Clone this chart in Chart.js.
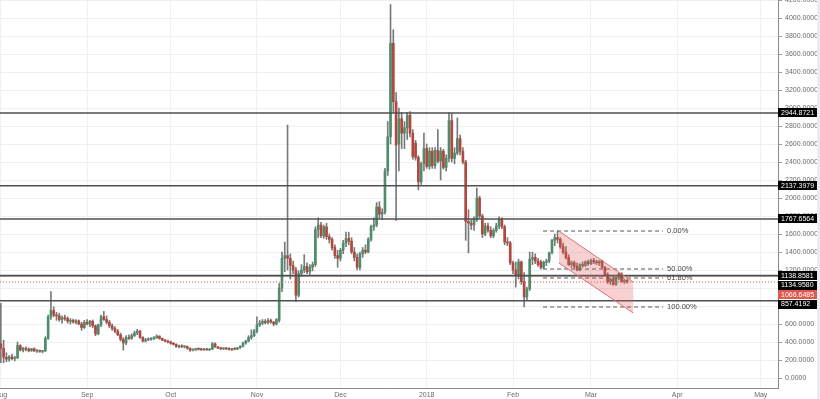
<!DOCTYPE html>
<html>
<head>
<meta charset="utf-8">
<script src="https://cdn.jsdelivr.net/npm/chart.js@4.4.1/dist/chart.umd.min.js"></script>
<style>
  html, body { margin:0; padding:0; background:#fff; overflow:hidden; }
  #wrap { position:relative; width:820px; height:399px; }
  #strip { position:absolute; right:0; top:0; width:3px; height:399px; background:#e9ecf0; }
</style>
</head>
<body>
<div id="wrap"><canvas id="chart" width="820" height="399"></canvas><div id="strip"></div></div>
<script>
// day 0 = 1 Aug 2017, one candle per day: [open, high, low, close]
var monthStarts = [0, 31, 61, 92, 122, 153, 184, 212, 243, 273];
var monthLabels = ['Aug', 'Sep', 'Oct', 'Nov', 'Dec', '2018', 'Feb', 'Mar', 'Apr', 'May'];

var aug = [
  [380,830,170,330],[330,420,170,230],[230,280,180,210],[210,250,185,235],[235,265,200,215],
  [215,240,190,225],[225,400,215,360],[360,370,300,310],[310,340,290,330],[330,345,300,320],
  [320,335,290,305],[305,330,295,325],[325,335,295,300],[300,315,285,303],[303,310,285,295],
  [295,305,280,300],[300,460,295,440],[440,700,430,680],[680,960,650,750],[750,790,680,700],
  [700,730,640,690],[690,720,630,650],[650,690,610,670],[670,700,640,660],[660,680,610,630],
  [630,660,600,640],[640,655,610,620],[620,650,600,635],[635,645,590,600],[600,620,530,560],
  [560,640,550,620]
];
var sep = [
  [620,650,590,600],[600,640,570,630],[630,645,560,580],[580,590,470,490],[490,600,480,590],
  [590,700,570,680],[680,740,640,650],[650,690,600,620],[620,640,560,580],[580,600,530,550],
  [550,570,500,520],[520,540,470,480],[480,500,410,430],[430,450,310,390],[390,470,370,450],
  [450,480,430,440],[440,490,430,470],[470,520,460,500],[500,540,480,520],[520,530,440,450],
  [450,460,400,410],[410,440,400,425],[425,445,415,430],[430,450,420,440],[440,460,425,445],
  [445,480,440,465],[465,470,430,440],[440,445,415,420],[420,430,400,410],[410,420,390,400]
];
var oct = [
  [400,410,375,385],[385,395,365,375],[375,380,340,350],[350,365,335,355],[355,370,340,345],
  [345,360,335,350],[350,355,320,330],[330,335,295,310],[310,325,300,315],[315,330,305,320],
  [320,335,310,318],[318,330,305,315],[315,325,305,320],[320,330,308,312],[312,325,305,320],
  [320,395,315,380],[380,390,340,345],[345,350,325,330],[330,340,315,325],[325,335,315,330],
  [330,340,318,322],[322,335,310,318],[318,330,305,325],[325,335,312,320],[320,340,315,335],
  [335,360,330,350],[350,400,345,390],[390,420,375,410],[410,470,400,450],[450,535,430,470],
  [470,540,460,520]
];
var nov = [
  [520,680,500,590],[590,640,570,610],[610,650,590,630],[630,650,600,615],[615,660,600,640],
  [640,655,610,620],[620,630,580,600],[600,660,590,650],[640,1050,620,1000],[1000,1400,960,1330],
  [1330,1510,1180,1360],[1360,2810,1200,1330],[1330,1380,1100,1250],[1250,1300,1160,1200],[1200,1230,850,920],
  [920,1190,900,1160],[1160,1260,1130,1200],[1200,1370,1170,1240],[1240,1280,1160,1180],[1180,1260,1150,1230],
  [1230,1290,1190,1260],[1260,1680,1240,1650],[1650,1780,1560,1700],[1700,1730,1560,1580],[1580,1700,1550,1680],
  [1680,1720,1540,1570],[1570,1600,1500,1540],[1540,1560,1420,1450],[1450,1480,1330,1360],[1360,1420,1230,1330]
];
var dec = [
  [1330,1440,1300,1420],[1420,1530,1380,1500],[1500,1620,1460,1550],[1550,1620,1480,1520],[1520,1560,1380,1400],
  [1400,1450,1300,1340],[1340,1380,1200,1230],[1230,1400,1200,1380],[1380,1450,1340,1420],[1420,1480,1380,1400],
  [1400,1560,1390,1540],[1540,1700,1520,1680],[1680,1780,1640,1700],[1700,1950,1680,1900],[1900,1960,1780,1820],
  [1820,1880,1760,1840],[1840,2330,1820,2300],[2300,2850,2250,2680],[2680,4150,2600,3720],[3720,3870,2950,3070],
  [3070,3170,1750,2590],[2600,3000,2300,2880],[2880,2950,2550,2720],[2720,2850,2550,2780],[2780,2950,2650,2920],
  [2920,2960,2680,2720],[2720,2760,2430,2460],[2610,2640,2420,2450],[2450,2470,2090,2180],[2180,2400,2150,2380],
  [2380,2720,2300,2550]
];
var jan = [
  [2550,2600,2330,2350],[2350,2560,2320,2520],[2520,2560,2330,2360],[2360,2560,2330,2530],[2530,2760,2390,2410],
  [2410,2560,2200,2520],[2520,2540,2320,2340],[2340,2480,2300,2440],[2440,2950,2400,2860],[2860,2940,2400,2440],
  [2440,2560,2380,2500],[2500,2890,2480,2660],[2660,2700,2480,2520],[2520,2560,2380,2400],[2400,2420,1530,1740],
  [1740,1870,1390,1720],[1720,1760,1650,1700],[1700,1790,1640,1770],[1770,2110,1740,2000],[2000,2020,1780,1800],
  [1800,1820,1560,1600],[1600,1720,1580,1690],[1690,1720,1620,1640],[1640,1680,1560,1580],[1580,1660,1560,1640],
  [1640,1720,1620,1690],[1690,1790,1660,1760],[1760,1780,1660,1680],[1680,1700,1480,1510],[1510,1560,1470,1500],
  [1500,1520,1260,1280]
];
var feb = [
  [1280,1300,1160,1200],[1200,1290,1010,1140],[1140,1320,1100,1290],[1290,1300,1040,1070],[1070,1170,789,900],
  [900,1010,870,990],[990,1400,970,1320],[1320,1400,1260,1340],[1340,1380,1270,1300],[1300,1330,1240,1260],
  [1290,1310,1210,1230],[1230,1300,1215,1285],[1285,1320,1250,1300],[1300,1400,1280,1390],[1390,1540,1380,1530],
  [1530,1600,1470,1560],[1560,1633,1500,1540],[1540,1560,1440,1460],[1460,1500,1380,1400],[1400,1460,1320,1340],
  [1340,1370,1250,1260],[1260,1300,1230,1280],[1280,1300,1220,1240],[1240,1280,1190,1200],[1200,1270,1190,1260],
  [1260,1290,1230,1250],[1250,1300,1240,1290],[1290,1310,1250,1270]
];
var mar = [
  [1270,1320,1260,1305],[1305,1330,1270,1290],[1290,1310,1260,1280],[1280,1305,1250,1300],[1300,1310,1220,1230],
  [1230,1240,1140,1150],[1150,1170,1050,1070],[1070,1110,1040,1100],[1100,1130,1030,1040],[1040,1120,1030,1110],
  [1110,1170,1090,1160],[1160,1170,1060,1070],[1070,1100,1050,1085],[1085,1095,1055,1066.6485]
];

// horizontal levels drawn across the chart
var levels = [2944.8721, 2137.3979, 1767.6564, 1138.8581, 1134.9580, 857.4192];
var lastPrice = 1066.6485;

// fibonacci retracement
var fibLabels = ['0.00%', '50.00%', '61.80%', '100.00%'];
var fibPrices = [1633, 1211, 1111, 789];
var fibDays = [194.8, 237.9];

// falling channel: [day, price] upper and lower edges
var chanTop = [[200.5, 1633], [227.2, 1066]];
var chanBottom = [[200.5, 1278], [227.2, 722]];

var X_MIN = -0.3, X_MAX = 279.2;
var upColor = '#4e8c6b', downColor = '#b2473d', wickColor = '#7a7a7c';
var FONT = 'Liberation Sans, Arial, sans-serif';

var candles = [].concat(aug, sep, oct, nov, dec, jan, feb, mar);
var bodies = candles.map(function(c, i){ return {x: i, y: [c[0], c[3]]}; });
var wicks = candles.map(function(c, i){ return {x: i, y: [c[2], c[1]]}; });
var bodyColors = candles.map(function(c){ return c[3] >= c[0] ? upColor : downColor; });

var datasets = [];

datasets.push({
  type: 'line', order: -2,
  data: [
    {x: chanTop[0][0], y: chanTop[0][1]}, {x: chanTop[1][0], y: chanTop[1][1]},
    {x: chanBottom[1][0], y: chanBottom[1][1]}, {x: chanBottom[0][0], y: chanBottom[0][1]},
    {x: chanTop[0][0], y: chanTop[0][1]}
  ],
  borderWidth: 0, borderColor: 'rgba(0,0,0,0)',
  backgroundColor: 'rgba(228,90,90,0.28)', fill: 'shape', pointRadius: 0, tension: 0
});
[chanTop, chanBottom].forEach(function(edge){
  datasets.push({
    type: 'line', order: -3,
    data: edge.map(function(p){ return {x: p[0], y: p[1]}; }),
    borderColor: '#e07070', borderWidth: 1, pointRadius: 0, fill: false
  });
});

levels.forEach(function(lv){
  datasets.push({
    type: 'line', order: -1,
    data: [{x: X_MIN, y: lv}, {x: X_MAX, y: lv}],
    borderColor: '#505050', borderWidth: 1.5, pointRadius: 0, fill: false
  });
});
datasets.push({
  type: 'line', order: -1,
  data: [{x: X_MIN, y: lastPrice}, {x: X_MAX, y: lastPrice}],
  borderColor: '#e0594d', borderWidth: 1, borderDash: [1, 2], pointRadius: 0, fill: false
});
fibPrices.forEach(function(fp){
  datasets.push({
    type: 'line', order: -1,
    data: [{x: fibDays[0], y: fp}, {x: fibDays[1], y: fp}],
    borderColor: '#555', borderWidth: 1, borderDash: [4, 3], pointRadius: 0, fill: false
  });
});

datasets.push({
  type: 'bar', order: 0, data: bodies, grouped: false,
  backgroundColor: bodyColors, barThickness: 2, minBarLength: 1, borderWidth: 0
});
datasets.push({
  type: 'bar', order: 1, data: wicks, grouped: false,
  backgroundColor: wickColor, barThickness: 1, borderWidth: 0
});

var overlay = {
  id: 'overlay',
  afterDraw: function(chart){
    var ctx = chart.ctx, xs = chart.scales.x, ys = chart.scales.y;
    ctx.save();
    // fib labels
    ctx.font = '7.5px ' + FONT;
    ctx.fillStyle = '#444';
    ctx.textAlign = 'left';
    ctx.textBaseline = 'middle';
    fibPrices.forEach(function(fp, i){
      ctx.fillText(fibLabels[i], xs.getPixelForValue(fibDays[1]) + 4, ys.getPixelForValue(fp));
    });
    // price boxes on the axis
    var tags = levels.map(function(v){ return {v: v, c: '#000'}; });
    tags.push({v: lastPrice, c: '#e0594d'});
    tags.forEach(function(t){ t.y = ys.getPixelForValue(t.v); });
    tags.sort(function(a, b){ return a.y - b.y; });
    var prev = -100;
    tags.forEach(function(t){
      if (t.y < prev + 9.5) t.y = prev + 9.5;
      prev = t.y;
    });
    var left = chart.chartArea.right;
    ctx.font = '7px ' + FONT;
    tags.forEach(function(t){
      ctx.fillStyle = t.c;
      ctx.fillRect(left, Math.round(t.y - 4.5), 39, 9);
      ctx.fillStyle = '#fff';
      ctx.fillText(t.v.toFixed(4), left + 3, t.y + 0.5);
    });
    ctx.restore();
  }
};

new Chart(document.getElementById('chart').getContext('2d'), {
  type: 'bar',
  data: {datasets: datasets},
  options: {
    responsive: false, animation: false, devicePixelRatio: 1,
    layout: {padding: 0},
    plugins: {legend: {display: false}, tooltip: {enabled: false}},
    scales: {
      x: {
        type: 'linear', min: X_MIN, max: X_MAX, offset: false,
        afterBuildTicks: function(s){ s.ticks = monthStarts.map(function(v){ return {value: v}; }); },
        ticks: {
          autoSkip: false, maxRotation: 0, padding: 3, color: '#6a6a6a',
          font: {family: FONT, size: 7},
          callback: function(v, i){ return monthLabels[i]; }
        },
        grid: {color: '#f0f0f0', drawTicks: false, offset: false},
        border: {color: '#8a8a8a'},
        afterFit: function(s){ s.height = 11; s.paddingLeft = 0; s.paddingRight = 0; }
      },
      y: {
        position: 'right', min: -111.1, max: 4200,
        ticks: {
          stepSize: 200, includeBounds: false, padding: 3, color: '#6a6a6a',
          font: {family: FONT, size: 7},
          callback: function(v){ return Number(v).toFixed(4); }
        },
        grid: {color: '#f0f0f0', tickColor: '#999', tickLength: 4},
        border: {color: '#8a8a8a'},
        afterFit: function(s){ s.width = 42; s.paddingTop = 0; s.paddingBottom = 0; }
      }
    }
  },
  plugins: [overlay]
});
</script>
</body>
</html>
